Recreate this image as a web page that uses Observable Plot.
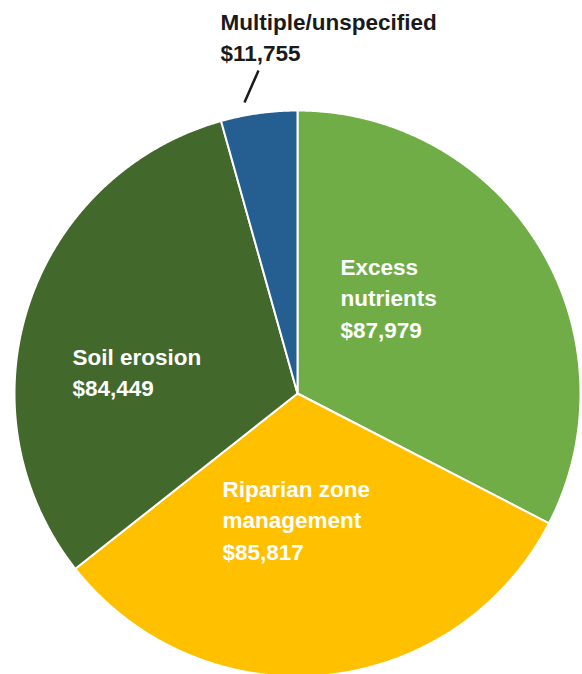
<!DOCTYPE html>
<html>
<head>
<meta charset="utf-8">
<script src="https://cdn.jsdelivr.net/npm/d3@7"></script>
<script src="https://cdn.jsdelivr.net/npm/@observablehq/plot@0.6"></script>
<style>
  html, body { margin: 0; padding: 0; background: #fff; }
  #chart svg { display: block; }
</style>
</head>
<body>
<div id="chart"></div>
<script>
// ---- data ----
const categories = ["Excess nutrients", "Riparian zone management", "Soil erosion", "Multiple/unspecified"];
const values = [87979, 85817, 84449, 11755];
const labelLines = [
  ["Excess", "nutrients", "$87,979"],
  ["Riparian zone", "management", "$85,817"],
  ["Soil erosion", "$84,449"],
  ["Multiple/unspecified", "$11,755"]
];
const colors = ["#70AD47", "#FFC000", "#43682B", "#255E91"];
const textColors = ["#ffffff", "#ffffff", "#ffffff", "#1a1a1a"];

// ---- layout ----
const W = 582, H = 674;
const CX = 297, CY = 393, R = 283;
// label top-left (pixel) positions: first baseline
const labelPos = [[340, 274], [222, 496], [72, 364], [220, 29]];
const lineH = 31.5;
const leader = [[258, 70], [244, 102]];

const px2x = p => (p - CX) / R;
const py2y = p => (CY - p) / R;

// ---- slices through d3.pie ----
const arcs = d3.pie().sort(null).value(d => d)(values);
const pts = [];
arcs.forEach((a, i) => {
  const cat = categories[i];
  pts.push({cat, x: 0, y: 0});
  const n = Math.max(8, Math.ceil((a.endAngle - a.startAngle) / 0.005));
  for (let k = 0; k <= n; k++) {
    const t = a.startAngle + (a.endAngle - a.startAngle) * k / n;
    pts.push({cat, x: Math.sin(t), y: Math.cos(t)});
  }
  pts.push({cat, x: 0, y: 0});
});

const labels = [];
labelLines.forEach((lines, i) => {
  lines.forEach((txt, j) => {
    labels.push({txt, cat: categories[i], x: px2x(labelPos[i][0]), y: py2y(labelPos[i][1] + j * lineH), color: textColors[i]});
  });
});

const chart = Plot.plot({
  width: W,
  height: H,
  margin: 0,
  x: {domain: [px2x(0), px2x(W)], range: [0, W], axis: null},
  y: {domain: [py2y(H), py2y(0)], range: [H, 0], axis: null},
  color: {domain: categories, range: colors},
  style: {fontFamily: "'Liberation Sans', Arial, sans-serif"},
  marks: [
    Plot.line(pts, {x: "x", y: "y", z: "cat", fill: "cat", stroke: "#ffffff", strokeWidth: 2, strokeLinejoin: "round", curve: "linear"}),
    Plot.link([leader], {x1: d => px2x(d[0][0]), y1: d => py2y(d[0][1]), x2: d => px2x(d[1][0]), y2: d => py2y(d[1][1]), stroke: "#1a1a1a", strokeWidth: 2.5}),
    Plot.text(labels, {x: "x", y: "y", text: "txt", fill: d => d.color, textAnchor: "start", lineAnchor: "bottom", fontSize: 22.5, fontWeight: "bold"})
  ]
});
document.getElementById("chart").appendChild(chart);
</script>
</body>
</html>
